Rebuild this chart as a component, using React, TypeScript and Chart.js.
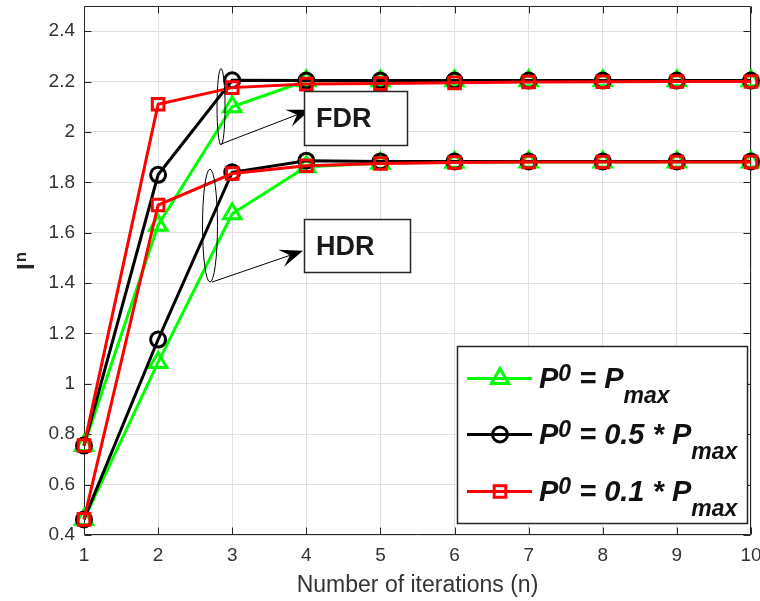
import React, { useEffect, useRef } from "react";
import { Chart, registerables } from "chart.js";

Chart.register(...registerables);

// ---------------- data ----------------
const iterations = [1, 2, 3, 4, 5, 6, 7, 8, 9, 10];

// FDR group (upper curves)
const fdrPmax = [0.755, 1.63, 2.1, 2.203, 2.203, 2.203, 2.203, 2.203, 2.203, 2.203];
const fdrHalfPmax = [0.755, 1.83, 2.205, 2.204, 2.204, 2.204, 2.204, 2.204, 2.204, 2.204];
const fdrTenthPmax = [0.755, 2.11, 2.176, 2.19, 2.192, 2.195, 2.198, 2.199, 2.2, 2.2];

// HDR group (lower curves)
const hdrPmax = [0.462, 1.085, 1.675, 1.862, 1.876, 1.88, 1.881, 1.881, 1.881, 1.881];
const hdrHalfPmax = [0.462, 1.176, 1.84, 1.886, 1.883, 1.883, 1.883, 1.883, 1.883, 1.883];
const hdrTenthPmax = [0.462, 1.71, 1.835, 1.866, 1.875, 1.879, 1.881, 1.881, 1.881, 1.881];

const yMin = 0.4;
const yMax = 2.5;
const yStep = 0.2;
const xMin = 1;
const xMax = 10;

const xTitle = "Number of iterations (n)";

// annotations (data units)
const labelBoxes = [
  { text: "FDR", x0: 3.97, x1: 5.36, y0: 2.164, y1: 1.948 },
  { text: "HDR", x0: 3.97, x1: 5.4, y0: 1.656, y1: 1.444 },
];
const ellipses = [
  { cx: 2.849, cy: 2.1, rx: 0.054, ry: 0.152 },
  { cx: 2.7, cy: 1.628, rx: 0.101, ry: 0.224 },
];
const arrows = [
  { x0: 2.849, y0: 1.952, x1: 4.05, y1: 2.088 },
  { x0: 2.727, y0: 1.404, x1: 3.955, y1: 1.528 },
];

// ---------------- styles ----------------
const F = '"Liberation Sans", Arial, Helvetica, sans-serif';
const AXIS = "#262626";
const GRID = "#e0e0e0";
const GREEN = "#00ff00";
const BLACK = "#000000";
const RED = "#ff0000";
const LW = 3;

type Series = { color: string; style: string; radius: number; order: number };
const sGreen: Series = { color: GREEN, style: "triangle", radius: 10, order: 3 };
const sBlack: Series = { color: BLACK, style: "circle", radius: 7.5, order: 2 };
const sRed: Series = { color: RED, style: "rect", radius: 8.2, order: 1 };

type Part = { t: string; kind?: "sup" | "sub" };
const legendEntries: { s: Series; parts: Part[] }[] = [
  { s: sGreen, parts: [{ t: "P" }, { t: "0", kind: "sup" }, { t: " = P" }, { t: "max", kind: "sub" }] },
  { s: sBlack, parts: [{ t: "P" }, { t: "0", kind: "sup" }, { t: " = 0.5 * P" }, { t: "max", kind: "sub" }] },
  { s: sRed, parts: [{ t: "P" }, { t: "0", kind: "sup" }, { t: " = 0.1 * P" }, { t: "max", kind: "sub" }] },
];

function mk(values: number[], s: Series, label: string) {
  return {
    label,
    data: iterations.map((x, i) => ({ x, y: values[i] })),
    borderColor: s.color,
    backgroundColor: "rgba(0,0,0,0)",
    borderWidth: LW,
    pointStyle: s.style,
    pointRadius: s.radius,
    pointBorderWidth: LW,
    pointBorderColor: s.color,
    pointBackgroundColor: "rgba(0,0,0,0)",
    tension: 0,
    fill: false,
    clip: false as any,
    order: s.order,
  };
}

function drawMarker(ctx: CanvasRenderingContext2D, style: string, x: number, y: number, r: number) {
  ctx.beginPath();
  if (style === "triangle") {
    let rad = 0;
    ctx.moveTo(x + Math.sin(rad) * r, y - Math.cos(rad) * r);
    rad += (2 * Math.PI) / 3;
    ctx.lineTo(x + Math.sin(rad) * r, y - Math.cos(rad) * r);
    rad += (2 * Math.PI) / 3;
    ctx.lineTo(x + Math.sin(rad) * r, y - Math.cos(rad) * r);
    ctx.closePath();
  } else if (style === "circle") {
    ctx.arc(x, y, r, 0, Math.PI * 2);
  } else {
    const h = r * Math.SQRT1_2;
    ctx.rect(x - h, y - h, 2 * h, 2 * h);
  }
  ctx.stroke();
}

function drawArrow(ctx: CanvasRenderingContext2D, x0: number, y0: number, x1: number, y1: number) {
  const dx = x1 - x0;
  const dy = y1 - y0;
  const len = Math.hypot(dx, dy);
  const ux = dx / len;
  const uy = dy / len;
  const px = -uy;
  const py = ux;
  const L = 23;
  const W = 9;
  const bx = x1 - ux * L;
  const by = y1 - uy * L;
  const ix = x1 - ux * L * 0.6;
  const iy = y1 - uy * L * 0.6;
  ctx.beginPath();
  ctx.moveTo(x0, y0);
  ctx.lineTo(ix, iy);
  ctx.stroke();
  ctx.beginPath();
  ctx.moveTo(x1, y1);
  ctx.lineTo(bx + px * W, by + py * W);
  ctx.lineTo(ix, iy);
  ctx.lineTo(bx - px * W, by - py * W);
  ctx.closePath();
  ctx.fill();
}

const overlay = {
  id: "overlay",
  beforeDatasetsDraw(chart: any) {
    const { ctx, chartArea: a, scales } = chart;
    const xs = scales.x;
    const ys = scales.y;
    const L = Math.round(a.left) + 0.5;
    const R = Math.round(a.right) - 0.5;
    const T = Math.round(a.top) + 0.5;
    const B = Math.round(a.bottom) - 0.5;
    ctx.save();
    ctx.strokeStyle = AXIS;
    ctx.lineWidth = 1;
    ctx.beginPath();
    ctx.rect(L, T, R - L, B - T);
    ctx.stroke();
    const tl = 7;
    ctx.beginPath();
    for (const t of xs.ticks) {
      const p = Math.round(xs.getPixelForValue(t.value)) + 0.5;
      ctx.moveTo(p, B);
      ctx.lineTo(p, B - tl);
      ctx.moveTo(p, T);
      ctx.lineTo(p, T + tl);
    }
    for (const t of ys.ticks) {
      const p = Math.round(ys.getPixelForValue(t.value)) + 0.5;
      ctx.moveTo(L, p);
      ctx.lineTo(L + tl, p);
      ctx.moveTo(R, p);
      ctx.lineTo(R - tl, p);
    }
    ctx.stroke();
    ctx.restore();
  },
  afterDatasetsDraw(chart: any) {
    const { ctx, chartArea: a, scales } = chart;
    const xs = scales.x;
    const ys = scales.y;
    ctx.save();

    // ellipses
    ctx.strokeStyle = "#000";
    ctx.lineWidth = 1;
    for (const e of ellipses) {
      const cx = xs.getPixelForValue(e.cx);
      const cy = ys.getPixelForValue(e.cy);
      const rx = Math.abs(xs.getPixelForValue(e.cx + e.rx) - cx);
      const ry = Math.abs(ys.getPixelForValue(e.cy + e.ry) - cy);
      ctx.beginPath();
      ctx.ellipse(cx, cy, rx, ry, 0, 0, Math.PI * 2);
      ctx.stroke();
    }

    // arrows
    ctx.fillStyle = "#000";
    for (const ar of arrows) {
      drawArrow(
        ctx,
        xs.getPixelForValue(ar.x0),
        ys.getPixelForValue(ar.y0),
        xs.getPixelForValue(ar.x1),
        ys.getPixelForValue(ar.y1)
      );
    }

    // label boxes
    for (const b of labelBoxes) {
      const x0 = Math.round(xs.getPixelForValue(b.x0)) + 0.5;
      const x1 = Math.round(xs.getPixelForValue(b.x1)) + 0.5;
      const y0 = Math.round(ys.getPixelForValue(b.y0)) + 0.5;
      const y1 = Math.round(ys.getPixelForValue(b.y1)) + 0.5;
      ctx.fillStyle = "#fff";
      ctx.fillRect(x0, y0, x1 - x0, y1 - y0);
      ctx.strokeStyle = AXIS;
      ctx.lineWidth = 1.5;
      ctx.strokeRect(x0, y0, x1 - x0, y1 - y0);
      ctx.fillStyle = "#1a1a1a";
      ctx.font = `bold 27px ${F}`;
      ctx.textAlign = "left";
      ctx.textBaseline = "alphabetic";
      ctx.fillText(b.text, x0 + 11.5, y0 + 35);
    }

    // legend
    const lx0 = 457.5;
    const ly0 = 346.5;
    const lx1 = a.right - 3.5;
    const ly1 = 523.5;
    ctx.fillStyle = "#fff";
    ctx.fillRect(lx0, ly0, lx1 - lx0, ly1 - ly0);
    ctx.strokeStyle = AXIS;
    ctx.lineWidth = 1.5;
    ctx.strokeRect(lx0, ly0, lx1 - lx0, ly1 - ly0);
    const baselines = [41, 97, 154];
    legendEntries.forEach((en, i) => {
      const bl = ly0 + baselines[i];
      const ly = bl - 9;
      ctx.strokeStyle = en.s.color;
      ctx.lineWidth = LW;
      ctx.beginPath();
      ctx.moveTo(467, ly);
      ctx.lineTo(532, ly);
      ctx.stroke();
      drawMarker(ctx, en.s.style, 500, ly, en.s.radius);
      let cx = 539;
      ctx.fillStyle = "#111";
      ctx.textAlign = "left";
      ctx.textBaseline = "alphabetic";
      for (const p of en.parts) {
        const size = p.kind ? 23 : 29;
        const dy = p.kind === "sup" ? -7 : p.kind === "sub" ? 15 : 0;
        ctx.font = `italic bold ${size}px ${F}`;
        ctx.fillText(p.t, cx, bl + dy);
        cx += ctx.measureText(p.t).width;
      }
    });

    ctx.restore();
  },
  afterDraw(chart: any) {
    const { ctx, chartArea: a } = chart;
    ctx.save();
    // x title
    ctx.fillStyle = "#333";
    ctx.font = `23px ${F}`;
    ctx.textAlign = "center";
    ctx.textBaseline = "alphabetic";
    ctx.fillText(xTitle, (a.left + a.right) / 2, 592);
    // y title: I^n
    ctx.translate(34, 270);
    ctx.rotate(-Math.PI / 2);
    ctx.fillStyle = "#262626";
    ctx.textAlign = "left";
    ctx.font = `bold 24px ${F}`;
    ctx.fillText("I", 0, 0);
    const w = ctx.measureText("I").width;
    ctx.font = `bold 17px ${F}`;
    ctx.fillText("n", w + 1, -8);
    ctx.restore();
  },
};

export default function App() {
  const ref = useRef<HTMLCanvasElement | null>(null);
  useEffect(() => {
    if (!ref.current) return;
    const chart = new Chart(ref.current, {
      type: "line",
      data: {
        datasets: [
          mk(fdrPmax, sGreen, "FDR P0=Pmax"),
          mk(fdrHalfPmax, sBlack, "FDR P0=0.5Pmax"),
          mk(fdrTenthPmax, sRed, "FDR P0=0.1Pmax"),
          mk(hdrPmax, sGreen, "HDR P0=Pmax"),
          mk(hdrHalfPmax, sBlack, "HDR P0=0.5Pmax"),
          mk(hdrTenthPmax, sRed, "HDR P0=0.1Pmax"),
        ] as any,
      },
      options: {
        responsive: false,
        maintainAspectRatio: false,
        animation: false,
        events: [],
        layout: { autoPadding: false, padding: { left: 0, right: 9, top: 6, bottom: 0 } },
        plugins: {
          legend: { display: false },
          tooltip: { enabled: false },
          title: { display: false },
        },
        scales: {
          x: {
            type: "linear",
            min: xMin,
            max: xMax,
            border: { display: false },
            grid: { color: GRID, lineWidth: 1, drawTicks: false },
            ticks: {
              stepSize: 1,
              color: "#333",
              font: { family: F, size: 19 },
              padding: 9,
              maxRotation: 0,
              callback: (v: any) => String(v),
            },
            afterFit: (s: any) => {
              s.height = 66;
              s.paddingLeft = 0;
              s.paddingRight = 0;
            },
          },
          y: {
            type: "linear",
            min: yMin,
            max: yMax,
            border: { display: false },
            grid: { color: GRID, lineWidth: 1, drawTicks: false },
            ticks: {
              stepSize: yStep,
              includeBounds: false,
              color: "#333",
              font: { family: F, size: 19 },
              padding: 9,
              callback: (v: any) => String(Math.round(v * 10) / 10),
            },
            afterFit: (s: any) => {
              s.width = 84;
              s.paddingTop = 0;
              s.paddingBottom = 0;
            },
          },
        },
      },
      plugins: [overlay],
    } as any);
    return () => chart.destroy();
  }, []);
  return (
    <div style={{ position: "absolute", left: 0, top: 0, width: 760, height: 601, background: "#fff" }}>
      <canvas ref={ref} width={760} height={601} style={{ width: 760, height: 601, display: "block" }} />
    </div>
  );
}
